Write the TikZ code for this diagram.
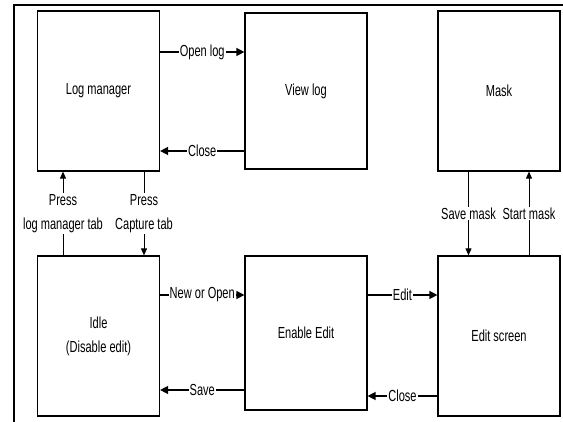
\documentclass[tikz,border=0pt]{standalone}
\usepackage{fontspec}
\setmainfont{Liberation Sans}[FakeStretch=0.69]
\usetikzlibrary{arrows.meta}
\tikzset{
  box/.style={draw, line width=1.2pt, align=center, inner sep=0pt},
  flow/.style={line width=1.4pt, -{Triangle[length=8pt,width=8pt]}},
  vflow/.style={line width=0.9pt, -{Triangle[length=7pt,width=6pt]}},
  lbl/.style={fill=white, inner sep=1pt, align=center}
}
\begin{document}
\begin{tikzpicture}[x=1pt, y=-1pt, font=\fontsize{16}{24}\selectfont]
  \useasboundingbox (0,0) rectangle (563,422);
  % outer frame
  \draw[line width=2pt] (14,422) -- (14,5) -- (563,5);
  % states: name/x/y/width/height/text
  \foreach \N/\X/\Y/\W/\H/\T in {logman/98.5/91/122/160/{Log manager},
                                viewlog/306/91/122/156/{View log},
                                mask/499/91/122/160/{Mask},
                                idle/98.5/336/122/160/{Idle\\(Disable edit)},
                                enable/306/333/122/154/{Enable Edit},
                                edit/499/336/122/160/{Edit screen}}
    {
    \node[box, minimum width=\W pt, minimum height=\H pt] (\N) at (\X,\Y) {\T};
    }
  % horizontal transitions
  \draw[flow] ([yshift=39pt]logman.east) coordinate (h1) -- (h1 -| viewlog.west) node[midway, lbl] {Open log};
  \draw[flow] ([yshift=-60pt]viewlog.west) coordinate (h2) -- (h2 -| logman.east) node[midway, lbl] {Close};
  \draw[flow] ([yshift=41pt]idle.east) coordinate (h3) -- (h3 -| enable.west) node[midway, lbl] {New or Open};
  \draw[flow] ([yshift=-57pt]enable.west) coordinate (h4) -- (h4 -| idle.east) node[midway, lbl] {Save};
  \draw[flow] ([yshift=38pt]enable.east) coordinate (h5) -- (h5 -| edit.west) node[midway, lbl] {Edit};
  \draw[flow] ([yshift=-60pt]edit.west) coordinate (h6) -- (h6 -| enable.east) node[midway, lbl] {Close};
  % vertical transitions
  \draw[vflow] ([xshift=-35.5pt]idle.north) coordinate (v1) -- (v1 |- logman.south) node[midway, lbl] {Press\\log manager tab};
  \draw[vflow] ([xshift=45.5pt]logman.south) coordinate (v2) -- (v2 |- idle.north) node[midway, lbl] {Press\\Capture tab};
  \draw[vflow] ([xshift=-30.5pt]mask.south) coordinate (v3) -- (v3 |- edit.north) node[midway, lbl] {Save mask};
  \draw[vflow] ([xshift=30pt]edit.north) coordinate (v4) -- (v4 |- mask.south) node[midway, lbl] {Start mask};
\end{tikzpicture}
\end{document}
